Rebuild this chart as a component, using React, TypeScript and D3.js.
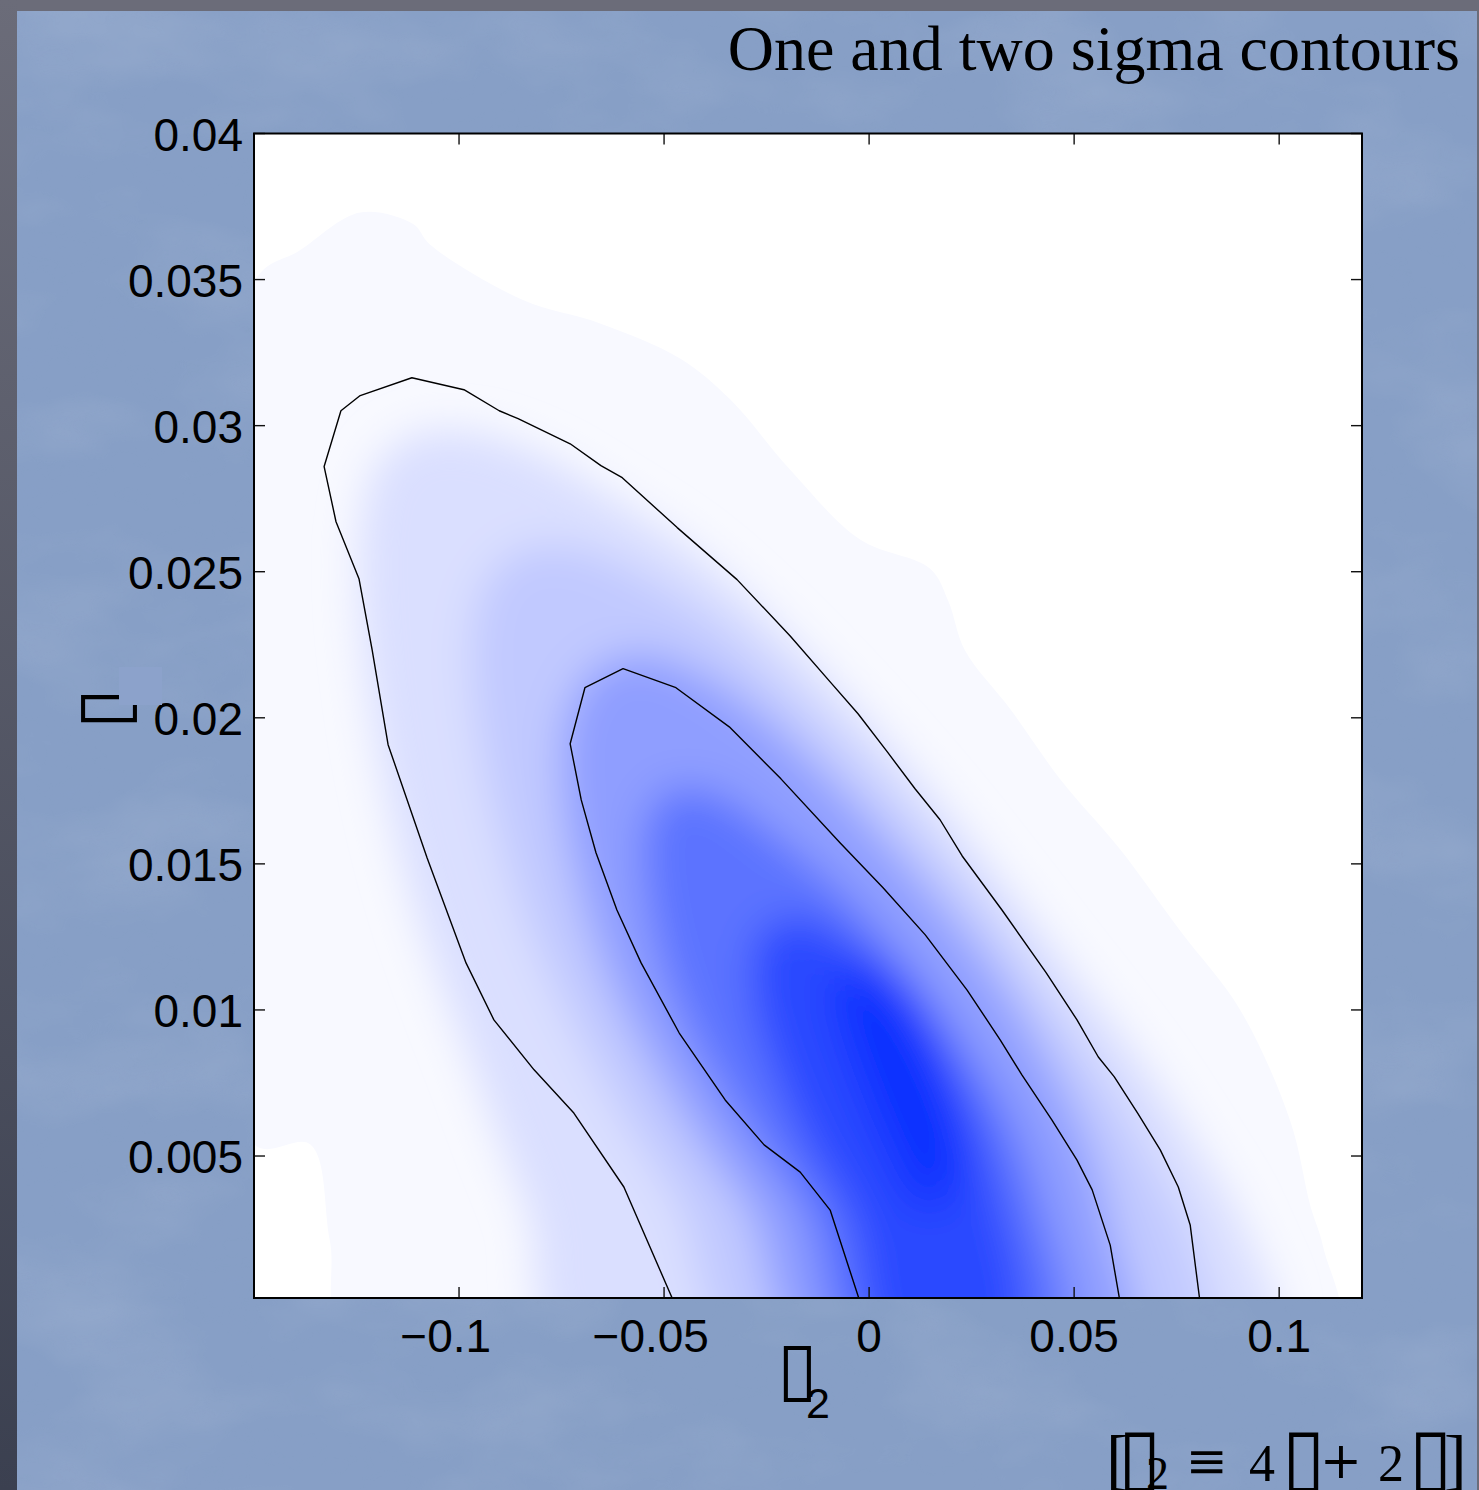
import * as d3 from 'd3'

const W = 1479
const H = 1490

const title = 'One and two sigma contours'
const xTicks = [-0.1, -0.05, 0, 0.05, 0.1]
const xTickLabels = ['−0.1', '−0.05', '0', '0.05', '0.1']
const yTicks = [0.005, 0.01, 0.015, 0.02, 0.025, 0.03, 0.035, 0.04]
const yTickLabels = ['0.005', '0.01', '0.015', '0.02', '0.025', '0.03', '0.035', '0.04']

// shaded density: outlines of each colour level, lightest first (x, y in data units)
const bandLevels = [0.03, 0.09, 0.2, 0.35, 0.55, 0.75, 0.9]
const band1 = [
  [-0.15, 0.0349], [-0.1388, 0.036], [-0.1241, 0.0373], [-0.1112, 0.0369], [-0.1071, 0.0362],
  [-0.0844, 0.0343], [-0.0656, 0.0335], [-0.0461, 0.0323], [-0.0339, 0.0309], [-0.0193, 0.0285],
  [-0.0022, 0.0261], [0.0149, 0.0251], [0.0193, 0.024], [0.0234, 0.0223], [0.0344, 0.0203],
  [0.0466, 0.0179], [0.0612, 0.0155], [0.0759, 0.0127], [0.0905, 0.01], [0.1027, 0.0062],
  [0.1076, 0.0033], [0.1107, 0.0019], [0.1132, 0], [-0.1266, 0], [-0.1315, 0.0021],
  [-0.1363, 0.0054], [-0.15, 0.0054]
]
const band2 = [
  [-0.0754, 0], [-0.0827, 0.0028], [-0.09, 0.0055], [-0.0973, 0.0083], [-0.1046, 0.011],
  [-0.112, 0.0141], [-0.118, 0.0175], [-0.1222, 0.021], [-0.1241, 0.024], [-0.1237, 0.0268],
  [-0.1198, 0.0287], [-0.1107, 0.0297], [-0.0973, 0.0298], [-0.0802, 0.029], [-0.0632, 0.0276],
  [-0.0437, 0.0258], [-0.0241, 0.0234], [-0.0046, 0.0206], [0.0149, 0.0175], [0.032, 0.0145],
  [0.049, 0.0114], [0.0661, 0.0083], [0.0807, 0.0052], [0.0917, 0.0025], [0.0983, 0]
]
const band3 = [
  [-0.0327, 0], [-0.0461, 0.0032], [-0.0595, 0.0062], [-0.0717, 0.0093], [-0.0827, 0.0127],
  [-0.0905, 0.0162], [-0.0954, 0.0196], [-0.0968, 0.0227], [-0.0932, 0.0247], [-0.0839, 0.0258],
  [-0.0705, 0.0258], [-0.0559, 0.0249], [-0.0388, 0.0234], [-0.0217, 0.0213], [-0.0046, 0.0189],
  [0.0124, 0.0162], [0.0295, 0.0133], [0.0441, 0.0103], [0.0588, 0.0073], [0.071, 0.0042],
  [0.0783, 0.0021], [0.082, 0]
]
const band4 = [
  [-0.0168, 0], [-0.029, 0.003], [-0.0412, 0.0055], [-0.0534, 0.0083], [-0.0632, 0.011],
  [-0.0705, 0.0141], [-0.0746, 0.0172], [-0.0741, 0.0199], [-0.0676, 0.0216], [-0.0559, 0.0222],
  [-0.0412, 0.0215], [-0.0266, 0.0201], [-0.012, 0.0182], [0.0027, 0.016], [0.0173, 0.0136],
  [0.032, 0.0109], [0.0441, 0.0081], [0.0539, 0.0052], [0.0593, 0.0025], [0.0632, 0]
]
const band5 = [
  [-0.0046, 0], [-0.0156, 0.003], [-0.0278, 0.0055], [-0.04, 0.0083], [-0.049, 0.011],
  [-0.0539, 0.0138], [-0.0546, 0.0162], [-0.049, 0.0175], [-0.0376, 0.0174], [-0.0229, 0.016],
  [-0.0083, 0.0143], [0.0063, 0.0121], [0.021, 0.0093], [0.0332, 0.0066], [0.0417, 0.0035],
  [0.0471, 0]
]
const band6 = [
  [0.0039, 0], [-0.0046, 0.0028], [-0.0156, 0.0055], [-0.0241, 0.0083], [-0.0285, 0.0107],
  [-0.0266, 0.0126], [-0.0168, 0.0132], [-0.0034, 0.0122], [0.0112, 0.0102], [0.0222, 0.0074],
  [0.0307, 0.0043], [0.0363, 0]
]
const band7 = [
  [-0.0083, 0.01], [-0.0071, 0.0114], [0.0002, 0.0116], [0.01, 0.0105], [0.0185, 0.0081],
  [0.0227, 0.0055], [0.0198, 0.0035], [0.0124, 0.0032], [0.0051, 0.0049], [-0.0022, 0.0073]
]
const bands = [band1, band2, band3, band4, band5, band6, band7]

// two sigma contour
const sigma2 = [
  [-0.0476, 0], [-0.0598, 0.00394], [-0.072, 0.00647], [-0.0817, 0.00795], [-0.0915, 0.00966],
  [-0.0983, 0.01161], [-0.1078, 0.01521], [-0.1173, 0.01908], [-0.1212, 0.02233], [-0.1244, 0.02476],
  [-0.13, 0.02671], [-0.1329, 0.0286], [-0.1288, 0.03051], [-0.1241, 0.03103], [-0.1115, 0.03164],
  [-0.0988, 0.03123], [-0.0902, 0.03051], [-0.0856, 0.03024], [-0.0729, 0.02938], [-0.0654, 0.02863],
  [-0.0602, 0.02822], [-0.0468, 0.02651], [-0.0322, 0.02473], [-0.0193, 0.02281], [-0.0095, 0.02123],
  [-0.0027, 0.02014], [0.0044, 0.01884], [0.0112, 0.01757], [0.0173, 0.01651], [0.0227, 0.01527],
  [0.0324, 0.01342], [0.0432, 0.01127], [0.0507, 0.00966], [0.0559, 0.00839], [0.0598, 0.00771],
  [0.0656, 0.00644], [0.071, 0.00521], [0.0754, 0.00394], [0.0783, 0.00264], [0.0807, 0]
]
// one sigma contour
const sigma1 = [
  [-0.0022, 0], [-0.0095, 0.00315], [-0.0168, 0.00445], [-0.0256, 0.00538], [-0.0351, 0.00692],
  [-0.0463, 0.00921], [-0.0556, 0.01161], [-0.0615, 0.01342], [-0.0666, 0.01538], [-0.0702, 0.01719],
  [-0.0729, 0.01911], [-0.0693, 0.02103], [-0.06, 0.02168], [-0.0471, 0.02103], [-0.0341, 0.01969],
  [-0.0215, 0.01791], [-0.0071, 0.01572], [0.0034, 0.01418], [0.0137, 0.01257], [0.0239, 0.01068],
  [0.032, 0.00897], [0.0373, 0.00777], [0.0446, 0.00623], [0.0507, 0.00486], [0.0544, 0.00384],
  [0.0588, 0.00195], [0.0612, 0]
]

const SANS = '"Liberation Sans", Arial, Helvetica, sans-serif'
const SERIF = '"Liberation Serif", "Times New Roman", serif'
const BOX = '"DejaVu Sans"'

export default function App() {
  const plot = { left: 254, right: 1362, top: 133.5, bottom: 1298 }
  const x = d3.scaleLinear().domain([-0.15, 0.1202]).range([plot.left, plot.right])
  const y = d3.scaleLinear().domain([0.00014, 0.04]).range([plot.bottom, plot.top])
  const shade = d3.scaleLinear<string>().domain([0, 1]).range(['#ffffff', '#0528ff']).interpolate(d3.interpolateRgb)

  // points sitting on the axis are pushed below it so the blur does not fade the bottom edge
  const area = d3.line<number[]>()
    .x(d => x(d[0]))
    .y(d => (d[1] <= 0 ? y(0) + 40 : y(d[1])))
    .curve(d3.curveCatmullRomClosed.alpha(0.5))
  const contour = d3.line<number[]>().x(d => x(d[0])).y(d => y(d[1]))

  // fill of each blurred band so that its edge lands on the level value
  const fills: number[] = []
  bandLevels.forEach((t, i) => {
    fills.push(i === 0 ? t : 2 * t - fills[i - 1])
  })

  const tickLen = 11
  const fs = 46

  return (
    <div style={{ position: 'absolute', left: 0, top: 0 }}>
      <svg width={W} height={H} style={{ display: 'block' }}>
        <defs>
          <linearGradient id="edge" x1="0" y1="0" x2="0" y2="1">
            <stop offset="0" stopColor="#6b6c79" />
            <stop offset="1" stopColor="#3b4050" />
          </linearGradient>
          <filter id="paper" x="0" y="0" width="100%" height="100%">
            <feTurbulence type="fractalNoise" baseFrequency="0.005 0.009" numOctaves={4} seed={5} />
            <feColorMatrix type="matrix" values="0 0 0 0 1  0 0 0 0 1  0 0 0 0 1  0.8 0 0 0 -0.36" />
          </filter>
          <filter id="paperDark" x="0" y="0" width="100%" height="100%">
            <feTurbulence type="fractalNoise" baseFrequency="0.02 0.03" numOctaves={3} seed={11} />
            <feColorMatrix type="matrix" values="0 0 0 0 0.25  0 0 0 0 0.35  0 0 0 0 0.6  0 0.8 0 0 -0.38" />
          </filter>
          <filter id="soft" filterUnits="userSpaceOnUse" x={150} y={50} width={1300} height={1400}>
            <feGaussianBlur stdDeviation={20} />
          </filter>
          <clipPath id="plotClip">
            <rect x={plot.left} y={plot.top} width={plot.right - plot.left} height={plot.bottom - plot.top} />
          </clipPath>
        </defs>

        {/* slide background */}
        <rect x={0} y={0} width={W} height={H} fill="#6b6c79" />
        <rect x={17} y={11} width={W - 19} height={H - 11} fill="#879fc6" />
        <rect x={17} y={11} width={W - 19} height={H - 11} filter="url(#paper)" opacity={0.25} />
        <rect x={17} y={11} width={W - 19} height={H - 11} filter="url(#paperDark)" opacity={0.25} />
        <rect x={0} y={0} width={17} height={H} fill="url(#edge)" />

        <text x={1460} y={70} textAnchor="end" fontFamily={SERIF} fontSize={64} fill="#000">{title}</text>

        {/* plot area */}
        <rect x={plot.left} y={plot.top} width={plot.right - plot.left} height={plot.bottom - plot.top} fill="#fff" />
        <g clipPath="url(#plotClip)">
          <path d={area(band1) ?? ''} fill={shade(fills[0])} />
          <g filter="url(#soft)">
            {bands.slice(1).map((b, i) => (
              <path key={i} d={area(b) ?? ''} fill={shade(Math.min(1, fills[i + 1]))} />
            ))}
          </g>
          <path d={contour(sigma2) ?? ''} fill="none" stroke="#000" strokeWidth={1.4} strokeLinejoin="round" />
          <path d={contour(sigma1) ?? ''} fill="none" stroke="#000" strokeWidth={1.4} strokeLinejoin="round" />
        </g>

        {/* ticks on all four sides */}
        <g stroke="#111" strokeWidth={1.4}>
          {xTicks.map(t => (
            <g key={`x${t}`}>
              <line x1={x(t)} x2={x(t)} y1={plot.bottom} y2={plot.bottom - tickLen} />
              <line x1={x(t)} x2={x(t)} y1={plot.top} y2={plot.top + tickLen} />
            </g>
          ))}
          {yTicks.map(t => (
            <g key={`y${t}`}>
              <line x1={plot.left} x2={plot.left + tickLen} y1={y(t)} y2={y(t)} />
              <line x1={plot.right} x2={plot.right - tickLen} y1={y(t)} y2={y(t)} />
            </g>
          ))}
        </g>
        <rect x={plot.left} y={plot.top} width={plot.right - plot.left} height={plot.bottom - plot.top}
          fill="none" stroke="#000" strokeWidth={2} />

        {/* tick labels */}
        <g fontFamily={SANS} fontSize={fs} fill="#000">
          {xTicks.map((t, i) => (
            <text key={`xl${t}`} x={x(t) - (t < 0 ? fs * 0.29 : 0)} y={1352} textAnchor="middle">
              {xTickLabels[i]}
            </text>
          ))}
          {yTicks.map((t, i) => (
            <text key={`yl${t}`} x={243} y={y(t) + 17} textAnchor="end">{yTickLabels[i]}</text>
          ))}
        </g>

        {/* axis labels */}
        <text transform="translate(128,709) rotate(-90)" textAnchor="middle" fontFamily={BOX} fontSize={73} fill="#000">▯</text>
        <rect x={119} y={667} width={43} height={38} fill="#8ca2cb" />
        <text x={777} y={1393} fontFamily={BOX} fontSize={73} fill="#000">▯</text>
        <text x={806} y={1418} fontFamily={SANS} fontSize={43} fill="#000">2</text>

        {/* definition note */}
        <g fill="#000">
          <text x={1106} y={1482} fontFamily={SERIF} fontSize={68}>[</text>
          <text x={1118} y={1483} fontFamily={BOX} fontSize={79}>▯</text>
          <text x={1146} y={1489} fontFamily={SERIF} fontSize={46}>2</text>
          <text x={1186} y={1478} fontFamily="DejaVu Serif" fontSize={50}>≡</text>
          <text x={1249} y={1481} fontFamily={SERIF} fontSize={52}>4</text>
          <text x={1282} y={1483} fontFamily={BOX} fontSize={79}>▯</text>
          <text x={1320} y={1478} fontFamily="DejaVu Serif" fontSize={50}>+</text>
          <text x={1378} y={1481} fontFamily={SERIF} fontSize={52}>2</text>
          <text x={1409} y={1483} fontFamily={BOX} fontSize={79}>▯</text>
          <text x={1444} y={1482} fontFamily={SERIF} fontSize={68}>]</text>
        </g>
      </svg>
    </div>
  )
}
